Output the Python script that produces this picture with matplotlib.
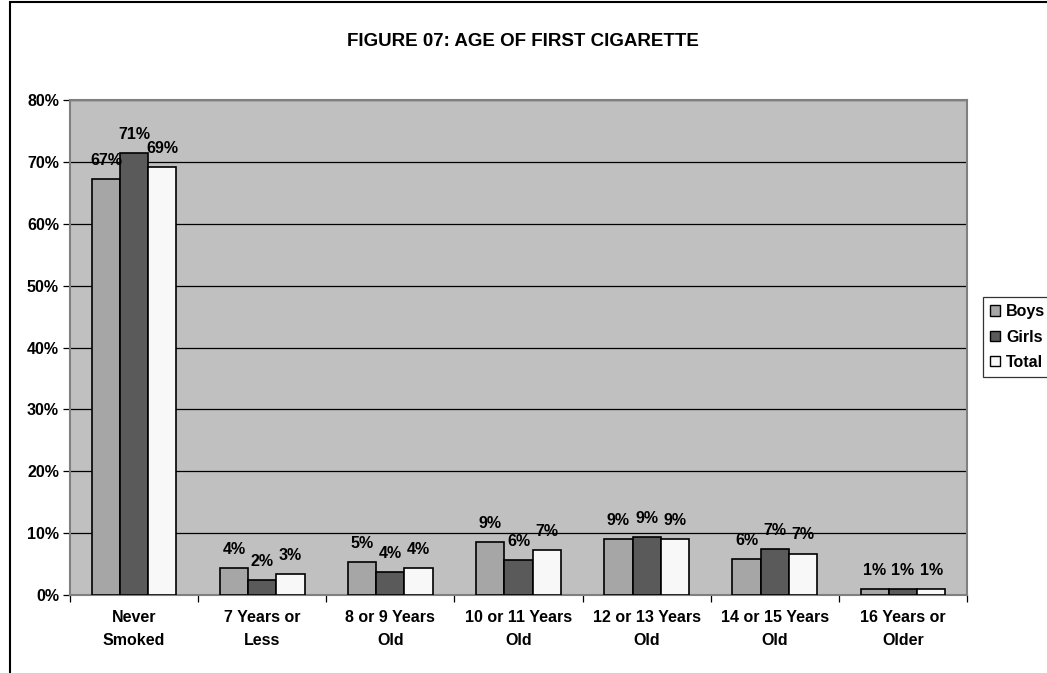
import matplotlib
matplotlib.use("Agg")
import matplotlib.pyplot as plt
import numpy as np
from matplotlib.patches import Rectangle, Patch

categories = ["Never\nSmoked", "7 Years or\nLess", "8 or 9 Years\nOld", "10 or 11 Years\nOld",
              "12 or 13 Years\nOld", "14 or 15 Years\nOld", "16 Years or\nOlder"]
boys = [67.2, 4.3, 5.3, 8.6, 9.0, 5.8, 1.0]
girls = [71.4, 2.4, 3.7, 5.7, 9.3, 7.4, 1.0]
total = [69.2, 3.4, 4.4, 7.2, 9.0, 6.7, 1.0]
series_names = ["Boys", "Girls", "Total"]
series_colors = ["#A6A6A6", "#5A5A5A", "#F8F8F8"]
yticks = [0, 10, 20, 30, 40, 50, 60, 70, 80]

plt.rcParams['font.family'] = ['Liberation Sans', 'DejaVu Sans']
plt.rcParams['font.weight'] = 'bold'

fig = plt.figure(figsize=(10.47, 6.73), dpi=100)
ax = fig.add_axes([70/1047, 1-595/673, 897/1047, 495/673])
ax.set_facecolor("#C0C0C0")

x = np.arange(len(categories))
w = 0.22
handles = []
for i, (vals, name, col) in enumerate(zip([boys, girls, total], series_names, series_colors)):
    pos = x + (i - 1) * w
    ax.bar(pos, vals, width=w, color=col, edgecolor="black", linewidth=1.2, zorder=3)
    for p, v in zip(pos, vals):
        ax.annotate(f"{int(np.floor(v + 0.5)):d}%", (p, v), xytext=(0, 8),
                    textcoords="offset points", ha="center", va="bottom",
                    fontsize=11.5, fontweight="bold", zorder=4)
    handles.append(Patch(facecolor=col, edgecolor="black", linewidth=1))

ax.set_xlim(-0.5, len(categories) - 0.5)
ax.set_ylim(0, 80)
ax.set_yticks(yticks)
ax.set_yticklabels([f"{t}%" for t in yticks], fontsize=11.5, fontweight="bold")
ax.yaxis.grid(True, color="black", linewidth=0.9, zorder=1)
ax.set_axisbelow(True)

ax.set_xticks(x)
ax.set_xticklabels(categories, fontsize=11.5, fontweight="bold", linespacing=1.65)
ax.tick_params(axis="x", length=0, pad=11)
ax.set_xticks(np.arange(len(categories) + 1) - 0.5, minor=True)
ax.tick_params(axis="x", which="minor", length=5, width=0.9, direction="out")
ax.tick_params(axis="y", length=5, width=0.9, direction="out", pad=3)

for s in ["top", "right", "left", "bottom"]:
    ax.spines[s].set_visible(True)
    ax.spines[s].set_color("#808080")
    ax.spines[s].set_linewidth(1.5)

fig.text(523/1047, 1-42/673, "FIGURE 07: AGE OF FIRST CIGARETTE", ha="center", va="center",
         fontsize=13.5, fontweight="bold")

leg = fig.legend(handles, series_names, loc="center left", bbox_to_anchor=(983/1047, 1-337/673),
                 borderaxespad=0, frameon=True, fancybox=False, edgecolor="black", fontsize=11.5,
                 handlelength=0.6, handleheight=0.6, handletextpad=0.4,
                 borderpad=0.45, labelspacing=0.65)
leg.get_frame().set_linewidth(0.9)

# Outer chart frame
fig.patches.append(Rectangle((10/1047, -0.1), 1.2, 1.1 - 2/673, transform=fig.transFigure,
                             fill=False, edgecolor="black", linewidth=1.5, zorder=0))

fig.savefig("out.png", dpi=100)
